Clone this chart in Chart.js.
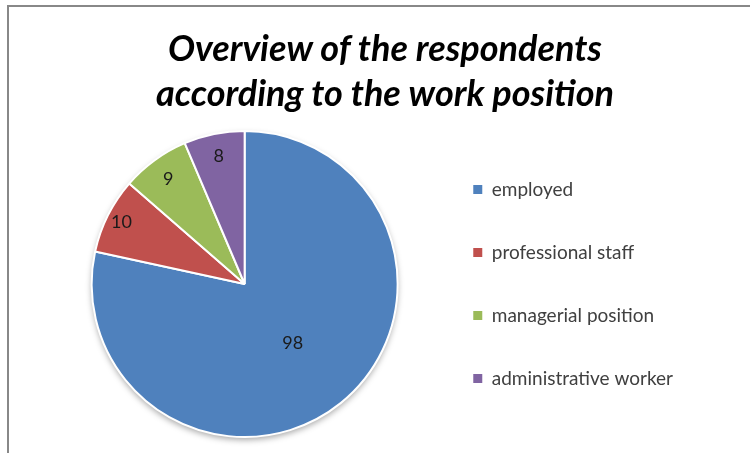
<!DOCTYPE html>
<html>
<head>
<meta charset="utf-8">
<title>Overview of the respondents</title>
<script src="https://cdn.jsdelivr.net/npm/chart.js@4.4.1/dist/chart.umd.min.js"></script>
<style>
  html, body { margin: 0; padding: 0; background: #fff; overflow: hidden; }
  #wrap { position: relative; width: 750px; height: 453px; }
  #frame {
    position: absolute; left: 7px; top: 5px; width: 760px; height: 460px;
    border-top: 2px solid #888; border-left: 2px solid #888;
  }
  #title {
    position: absolute; left: 0; top: 25px; width: 770px;
    text-align: center; font-family: Lato, "Open Sans", sans-serif;
    font-weight: bold; font-style: italic; font-size: 36px; line-height: 45px;
    color: #000;
  }
  canvas { position: absolute; left: 0; top: 0; }
</style>
</head>
<body>
<div id="wrap">
  <div id="frame"></div>
  <canvas id="pie" width="750" height="453"></canvas>
  <div id="title">Overview of the respondents<br>according to the work position</div>
</div>
<script>
// --- Daten ---
const categories = ['employed', 'professional staff', 'managerial position', 'administrative worker'];
const respondents = [98, 10, 9, 8];
const sliceColors = ['#4F81BD', '#C0504D', '#9BBB59', '#8064A2'];

// Abstand der Beschriftung vom Mittelpunkt (Anteil am Radius)
const labelRadius = [0.5, 0.9, 0.85, 0.85];

// Schatten unter dem Kreis
const pieShadow = {
  id: 'pieShadow',
  beforeDatasetsDraw(chart) {
    const arc = chart.getDatasetMeta(0).data[0];
    if (!arc) return;
    const ctx = chart.ctx;
    ctx.save();
    ctx.shadowColor = 'rgba(0,0,0,0.35)';
    ctx.shadowBlur = 6;
    ctx.shadowOffsetY = 3;
    ctx.fillStyle = '#fff';
    ctx.beginPath();
    ctx.arc(arc.x, arc.y, arc.outerRadius, 0, Math.PI * 2);
    ctx.fill();
    ctx.restore();
  }
};

// Werte in den Segmenten
const sliceLabels = {
  id: 'sliceLabels',
  afterDatasetsDraw(chart) {
    const ctx = chart.ctx;
    const meta = chart.getDatasetMeta(0);
    ctx.save();
    ctx.font = '18px Lato, "Open Sans", sans-serif';
    ctx.fillStyle = '#1a1a1a';
    ctx.textAlign = 'center';
    ctx.textBaseline = 'middle';
    meta.data.forEach((arc, i) => {
      const mid = (arc.startAngle + arc.endAngle) / 2;
      const r = arc.outerRadius * labelRadius[i];
      ctx.fillText(String(respondents[i]), arc.x + Math.cos(mid) * r, arc.y + Math.sin(mid) * r);
    });
    ctx.restore();
  }
};

new Chart(document.getElementById('pie'), {
  type: 'pie',
  data: {
    labels: categories,
    datasets: [{
      data: respondents,
      backgroundColor: sliceColors,
      borderColor: '#fff',
      borderWidth: 2
    }]
  },
  options: {
    responsive: false,
    animation: false,
    events: [],
    layout: { padding: { left: 60, right: 67, top: 130, bottom: 15 } },
    plugins: {
      title: { display: false },
      tooltip: { enabled: false },
      legend: {
        position: 'right',
        align: 'center',
        labels: {
          boxWidth: 9,
          boxHeight: 9,
          padding: 44,
          color: '#404040',
          font: { family: 'Lato, "Open Sans", sans-serif', size: 19 },
          // Legendenkästchen ohne weißen Rand
          generateLabels(chart) {
            const items = Chart.controllers.pie.overrides.plugins.legend.labels.generateLabels(chart);
            items.forEach(it => { it.lineWidth = 0; });
            return items;
          }
        }
      }
    }
  },
  plugins: [pieShadow, sliceLabels]
});
</script>
</body>
</html>
